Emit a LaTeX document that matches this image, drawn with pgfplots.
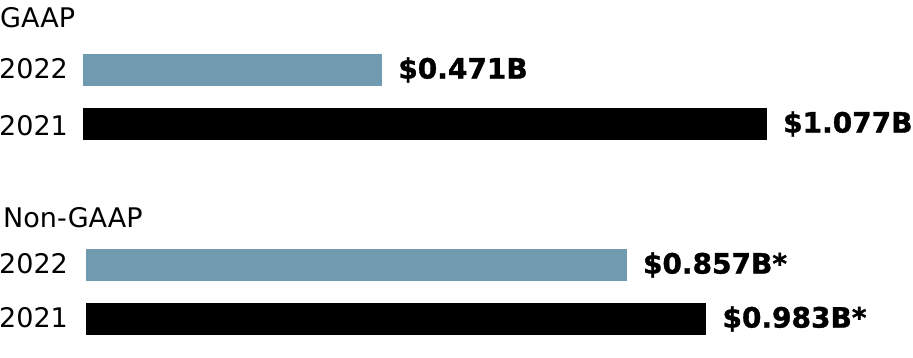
\documentclass[border=0pt]{standalone}
\usepackage{pgfplots}
\pgfplotsset{compat=1.18}
\usepackage{fontspec}
\setmainfont{DejaVu Sans}
\newfontfamily\heavy[FakeBold=1.2]{DejaVu Sans Bold}
\definecolor{barblue}{HTML}{6F9AB0}
\pgfplotsset{
  barax/.style={
    anchor=south west, y=1pt, xmin=0, xmax=1.3, ymin=0, ymax=358,
    hide axis, clip=false, xbar, bar width=32pt, bar shift=0pt,
    nodes near coords, point meta=explicit symbolic,
    nodes near coords style={anchor=west, inner sep=0pt, xshift=16pt,
      font=\fontsize{28}{32}\selectfont\heavy, text=black},
  }
}
\begin{document}
\begin{tikzpicture}[font=\fontsize{27}{32}\selectfont]
\path[use as bounding box] (0,0) rectangle (913pt,358pt);
% GAAP
\begin{axis}[barax, at={(83pt,0pt)}, x=635pt]
\addplot[fill=barblue, draw=none] coordinates {(0.471,288) [\$0.471B]};
\addplot[fill=black, draw=none] coordinates {(1.077,234) [\$1.077B]};
\end{axis}
% Non-GAAP
\begin{axis}[barax, at={(86pt,0pt)}, x=631pt]
\addplot[fill=barblue, draw=none] coordinates {(0.857,93) [\$0.857B*]};
\addplot[fill=black, draw=none] coordinates {(0.983,39) [\$0.983B*]};
\end{axis}
\node[anchor=base west, inner sep=0pt] at (0pt,330pt) {GAAP};
\node[anchor=base west, inner sep=0pt] at (-1pt,279pt) {2022};
\node[anchor=base west, inner sep=0pt] at (-1pt,222pt) {2021};
\node[anchor=base west, inner sep=0pt] at (3pt,130pt) {Non-GAAP};
\node[anchor=base west, inner sep=0pt] at (-1pt,84pt) {2022};
\node[anchor=base west, inner sep=0pt] at (-1pt,30pt) {2021};
\end{tikzpicture}
\end{document}
